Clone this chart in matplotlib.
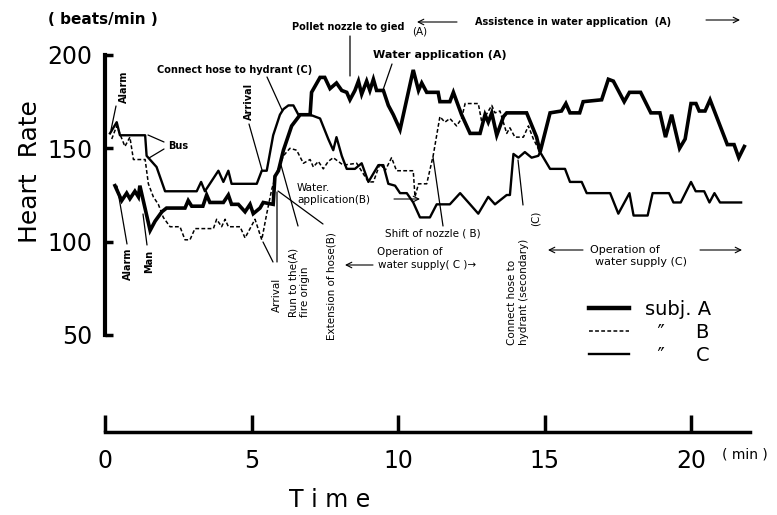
import matplotlib
matplotlib.use("Agg")
import matplotlib.pyplot as plt
from matplotlib.lines import Line2D

# heart rate records (time in min, beats/min)
a_time = [0.34, 0.57, 0.74, 0.85, 1.02, 1.14, 1.19, 1.54, 1.71, 1.94,
          2.10, 2.73, 2.84, 2.96, 3.34, 3.47, 3.58, 4.04, 4.21, 4.32,
          4.55, 4.78, 4.95, 5.06, 5.29, 5.40, 5.74, 5.80, 5.92, 6.09,
          6.37, 6.66, 7.00, 7.05, 7.34, 7.50, 7.68, 7.90, 8.08, 8.25,
          8.36, 8.53, 8.65, 8.76, 8.93, 9.04, 9.16, 9.27, 9.50, 9.67,
          9.84, 10.07, 10.52, 10.70, 10.81, 10.98, 11.37, 11.43, 11.77, 11.89,
          12.17, 12.46, 12.80, 12.97, 13.08, 13.20, 13.37, 13.60, 13.71, 14.39,
          14.73, 14.85, 15.19, 15.58, 15.73, 15.87, 16.20, 16.32, 16.95, 17.18,
          17.35, 17.72, 17.90, 18.28, 18.63, 18.94, 19.13, 19.34, 19.61, 19.80,
          20.00, 20.17, 20.28, 20.48, 20.65, 21.24, 21.47, 21.63, 21.82]
a_rate = [130, 122, 126, 123, 127, 124, 130, 106, 111, 116,
          118, 118, 122, 119, 119, 125, 121, 121, 125, 120,
          120, 116, 120, 115, 118, 121, 120, 135, 138, 149,
          162, 168, 168, 180, 188, 188, 182, 185, 181, 180,
          176, 181, 186, 179, 186, 181, 187, 181, 181, 173,
          168, 160, 192, 181, 185, 180, 180, 175, 175, 180,
          168, 158, 158, 168, 164, 169, 157, 167, 169, 169,
          156, 148, 169, 170, 174, 169, 169, 175, 176, 187,
          186, 175, 180, 180, 169, 169, 156, 168, 150, 155,
          174, 174, 170, 170, 176, 152, 152, 145, 151]

b_time = [0.23, 0.40, 0.68, 0.85, 0.97, 1.37, 1.48, 1.65, 1.82, 1.99,
          2.22, 2.56, 2.73, 2.90, 3.07, 3.70, 3.81, 3.98, 4.10, 4.21,
          4.61, 4.78, 4.95, 5.12, 5.35, 5.52, 5.69, 5.86, 6.09, 6.31,
          6.54, 6.77, 7.00, 7.11, 7.28, 7.45, 7.62, 7.79, 8.13, 8.59,
          8.99, 9.16, 9.39, 9.56, 9.78, 9.95, 10.52, 10.58, 10.70, 10.98,
          11.20, 11.43, 11.60, 11.77, 12.00, 12.17, 12.29, 12.74, 12.86, 13.20,
          13.31, 13.48, 13.71, 13.82, 13.99, 14.28, 14.45, 14.62, 14.85]
b_rate = [155, 162, 151, 156, 144, 144, 131, 124, 120, 113,
          108, 108, 101, 101, 107, 107, 112, 108, 112, 108,
          108, 102, 107, 112, 101, 115, 128, 137, 146, 150,
          149, 142, 144, 140, 143, 139, 143, 145, 141, 142,
          132, 132, 142, 138, 145, 138, 138, 124, 131, 131,
          146, 167, 164, 166, 162, 166, 174, 174, 164, 173,
          169, 170, 158, 161, 156, 156, 162, 155, 148]

c_time = [0.17, 0.40, 0.51, 1.37, 1.42, 1.76, 2.05, 3.13, 3.28, 3.41,
          3.87, 4.04, 4.21, 4.32, 5.18, 5.35, 5.52, 5.74, 5.97, 6.09,
          6.26, 6.43, 6.60, 7.00, 7.34, 7.62, 7.79, 7.90, 8.08, 8.25,
          8.53, 8.76, 8.99, 9.33, 9.50, 9.67, 9.90, 10.07, 10.30, 10.52,
          10.75, 11.09, 11.32, 11.77, 12.12, 12.46, 12.74, 13.08, 13.31, 13.71,
          13.82, 13.94, 14.11, 14.33, 14.56, 14.79, 14.85, 15.19, 15.70, 15.87,
          16.27, 16.44, 17.24, 17.52, 17.90, 18.04, 18.52, 18.69, 19.25, 19.40,
          19.65, 20.00, 20.16, 20.45, 20.63, 20.80, 20.99, 21.71]
c_rate = [158, 164, 157, 157, 146, 140, 127, 127, 132, 127,
          138, 132, 138, 131, 131, 138, 138, 157, 168, 171,
          173, 173, 168, 168, 166, 155, 149, 156, 146, 139,
          139, 142, 132, 141, 141, 131, 130, 126, 126, 121,
          113, 113, 120, 120, 126, 120, 115, 124, 120, 125,
          125, 147, 145, 148, 145, 146, 148, 139, 139, 132,
          132, 126, 126, 115, 126, 114, 114, 126, 126, 121,
          121, 132, 127, 127, 121, 126, 121, 121]

rate_ticks = [50, 100, 150, 200]
time_ticks = [0, 5, 10, 15, 20]

W, H = 777, 515


def fp(x, y):
    # image pixel (from top-left) -> figure fraction
    return (x / W, 1 - y / H)


def dp(x, y):
    # image pixel -> data coords of the heart-rate axes
    return ((x - 105) / 29.3, 200 - (y - 55) * 0.5357)


fig = plt.figure(figsize=(7.77, 5.15), dpi=100)
ax = fig.add_axes([105 / W, 180 / H, 644.6 / W, 280 / H])
ax.set_xlim(0, 22)
ax.set_ylim(50, 200)
for s in ['top', 'right', 'bottom']:
    ax.spines[s].set_visible(False)
ax.spines['left'].set_linewidth(3)
ax.set_yticks(rate_ticks)
ax.set_xticks([])
ax.tick_params(axis='y', direction='in', length=6, width=2.5, labelsize=17, pad=9)

ax.plot(a_time, a_rate, color='black', lw=2.6, solid_joinstyle='miter')
ax.plot(b_time, b_rate, color='black', lw=1.1, ls=(0, (2.5, 1.5)))
ax.plot(c_time, c_rate, color='black', lw=1.7)

handles = [Line2D([], [], color='black', lw=3.2),
           Line2D([], [], color='black', lw=1.1, ls=(0, (2.5, 1.5))),
           Line2D([], [], color='black', lw=1.7)]
ax.legend(handles, ['subj. A', '  \u2033     B', '  \u2033     C'],
          loc='upper left', bbox_to_anchor=(0.735, 0.16), frameon=False,
          fontsize=14, handlelength=2.1, handletextpad=0.8, labelspacing=0.2,
          borderpad=0)

# separate time axis below
tax = fig.add_axes([105 / W, (H - 432) / H, 644.6 / W, 0.0001])
tax.set_xlim(0, 22)
for s in ['top', 'right', 'left']:
    tax.spines[s].set_visible(False)
tax.spines['bottom'].set_linewidth(2.5)
tax.set_yticks([])
tax.set_xticks(time_ticks)
tax.tick_params(axis='x', direction='in', length=12, width=2.5, labelsize=17, pad=12)
tax.patch.set_alpha(0)

fig.text(*fp(722, 455), '( min )', fontsize=10, va='center', ha='left')
fig.text(*fp(330, 500), 'T i m e', fontsize=17, ha='center', va='center')
fig.text(*fp(30, 172), 'Heart  Rate', fontsize=18, rotation=90, ha='center', va='center')
fig.text(*fp(48, 20), '( beats/min )', fontsize=11, weight='bold', ha='left', va='center')

sm = dict(fontsize=7.5)
bold = dict(fontsize=7, weight='bold')


def arrow(p0, p1, style='-'):
    ax.annotate('', xy=dp(*p1), xycoords='data', xytext=fp(*p0),
                textcoords='figure fraction',
                arrowprops=dict(arrowstyle=style, lw=0.9, color='black',
                                shrinkA=0, shrinkB=0))


def hnote(x, y, s, **kw):
    fig.text(*fp(x, y), s, ha='left', va='center', **kw)


def vnote(x, y, s, **kw):
    fig.text(*fp(x, y), s, ha='left', va='center', rotation=90,
             rotation_mode='anchor', **kw)


vnote(124, 103, 'Alarm', **bold)
arrow((116, 106), (111, 130))
hnote(168, 146, 'Bus', **bold)
arrow((164, 142), (148, 135))
arrow((164, 149), (149, 158))
vnote(128, 280, 'Alarm', **bold)
arrow((127, 244), (117, 186))
vnote(149, 273, 'Man', **bold)
arrow((147, 245), (143, 214))
vnote(249, 120, 'Arrival', **bold)
arrow((249, 124), (262, 170))
hnote(157, 70, 'Connect hose to hydrant (C)', **bold)
arrow((267, 77), (282, 110))
hnote(292, 27, 'Pollet nozzle to gied', **bold)
hnote(412, 31, '(A)', **sm)
arrow((350, 36), (350, 76))
ax.annotate('', xy=fp(417, 22), xycoords='figure fraction', xytext=fp(457, 22),
            arrowprops=dict(arrowstyle='->', lw=0.8, shrinkA=0, shrinkB=0))
hnote(475, 22, 'Assistence in water application  (A)', **bold)
ax.annotate('', xy=fp(740, 20), xycoords='figure fraction', xytext=fp(706, 20),
            arrowprops=dict(arrowstyle='->', lw=0.8, shrinkA=0, shrinkB=0))
hnote(373, 55, 'Water application (A)', fontsize=8, weight='bold')
arrow((392, 64), (383, 90))
hnote(297, 188, 'Water.', **sm)
hnote(297, 200, 'application(B)', **sm)
ax.annotate('', xy=fp(420, 199), xycoords='figure fraction', xytext=fp(394, 199),
            arrowprops=dict(arrowstyle='->', lw=0.8, shrinkA=0, shrinkB=0))
vnote(277, 312, 'Arrival', **sm)
arrow((277, 262), (277, 192))
arrow((273, 262), (263, 242))
vnote(293, 317, 'Run to the(A)', **sm)
vnote(305, 317, 'fire origin', **sm)
arrow((298, 226), (281, 165))
vnote(331, 340, 'Extension of hose(B)', **sm)
arrow((323, 224), (278, 191))
hnote(385, 233, 'Shift of nozzle ( B)', **sm)
arrow((443, 226), (433, 157))
hnote(377, 252, 'Operation of', **sm)
hnote(378, 265, 'water supply( C )\u2192', **sm)
ax.annotate('', xy=fp(345, 265), xycoords='figure fraction', xytext=fp(373, 265),
            arrowprops=dict(arrowstyle='->', lw=0.8, shrinkA=0, shrinkB=0))
vnote(512, 345, 'Connect hose to', **sm)
vnote(524, 345, 'hydrant (secondary)', **sm)
vnote(536, 226, '(C)', **sm)
arrow((523, 205), (518, 160))
ax.annotate('', xy=fp(548, 250), xycoords='figure fraction', xytext=fp(583, 250),
            arrowprops=dict(arrowstyle='->', lw=0.8, shrinkA=0, shrinkB=0))
hnote(590, 250, 'Operation of', fontsize=8)
hnote(595, 262, 'water supply (C)', fontsize=8)
ax.annotate('', xy=fp(742, 250), xycoords='figure fraction', xytext=fp(700, 250),
            arrowprops=dict(arrowstyle='->', lw=0.8, shrinkA=0, shrinkB=0))

fig.savefig('out.png', dpi=100)
